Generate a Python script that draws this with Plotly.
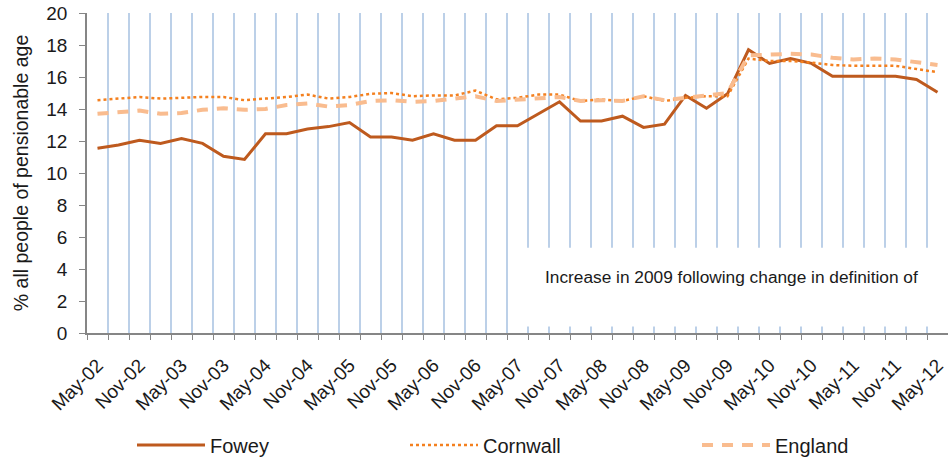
import plotly.graph_objects as go

# quarterly categories May-02 .. May-12
quarters = ["May", "Aug", "Nov", "Feb"]
categories = []
year = 2
for i in range(41):
    m = quarters[i % 4]
    yy = year if m != "Feb" else year + 1
    categories.append(f"{m}-{yy:02d}")
    if m == "Feb":
        year += 1

tick_labels = ["May-02", "Nov-02", "May-03", "Nov-03", "May-04", "Nov-04", "May-05",
               "Nov-05", "May-06", "Nov-06", "May-07", "Nov-07", "May-08", "Nov-08",
               "May-09", "Nov-09", "May-10", "Nov-10", "May-11", "Nov-11", "May-12"]

fowey = [11.55, 11.75, 12.05, 11.85, 12.15, 11.85, 11.05, 10.85, 12.45, 12.45,
         12.75, 12.9, 13.15, 12.25, 12.25, 12.05, 12.45, 12.05, 12.05, 12.95,
         12.95, 13.7, 14.45, 13.25, 13.25, 13.55, 12.85, 13.05, 14.85, 14.05,
         14.95, 17.7, 16.85, 17.15, 16.85, 16.05, 16.05, 16.05, 16.05, 15.85, 15.05]
cornwall = [14.55, 14.65, 14.75, 14.65, 14.7, 14.75, 14.75, 14.55, 14.65, 14.75,
            14.9, 14.65, 14.75, 14.95, 15.0, 14.8, 14.85, 14.85, 15.15, 14.6,
            14.7, 14.9, 14.9, 14.5, 14.6, 14.5, 14.8, 14.5, 14.7, 14.8,
            14.8, 17.15, 17.0, 17.0, 16.9, 16.75, 16.7, 16.7, 16.7, 16.5, 16.3]
england = [13.7, 13.8, 13.9, 13.7, 13.75, 13.95, 14.05, 13.95, 14.0, 14.25,
           14.35, 14.15, 14.25, 14.5, 14.55, 14.45, 14.5, 14.65, 14.8, 14.5,
           14.6, 14.7, 14.75, 14.5, 14.55, 14.5, 14.8, 14.55, 14.7, 14.8,
           15.0, 17.35, 17.4, 17.45, 17.4, 17.2, 17.1, 17.15, 17.1, 16.95, 16.75]

idx = list(range(len(categories)))
tick_idx = [categories.index(t) for t in tick_labels]

FONT = "Liberation Sans, Arial, sans-serif"
TXT = "#1a1a1a"
AX = "#868686"

W, H = 948, 459
ML, MR, MT, MB = 87, 0, 13, 126
PW, PH = W - ML - MR, H - MT - MB

fig = go.Figure()
fig.add_trace(go.Scatter(x=idx, y=fowey, name="Fowey", mode="lines",
                         line=dict(color="#BE5A1E", width=3),
                         customdata=categories))
fig.add_trace(go.Scatter(x=idx, y=cornwall, name="Cornwall", mode="lines",
                         line=dict(color="#F4801F", width=2.5, dash="dot"), legend="legend2",
                         customdata=categories))
fig.add_trace(go.Scatter(x=idx, y=england, name="England", mode="lines",
                         line=dict(color="#F9BC8F", width=4, dash="11px,9px"), legend="legend3",
                         customdata=categories))

# white box behind annotation text
fig.add_shape(type="rect", xref="x", yref="y", x0=19.8, x1=41, y0=0.4, y1=5.33,
              fillcolor="white", line=dict(width=0), layer="above")
fig.add_annotation(x=30.2, y=3.52, xref="x", yref="y",
                   text="Increase in 2009 following change in definition of",
                   showarrow=False, font=dict(family=FONT, size=17.3, color=TXT))


def leg(px_left):
    return dict(orientation="h", xref="paper", yref="paper",
                x=(px_left - ML) / PW, y=(MT + PH - 445) / PH,
                xanchor="left", yanchor="middle", itemwidth=68,
                font=dict(family=FONT, size=20, color=TXT), bgcolor="rgba(0,0,0,0)")


fig.update_layout(
    width=W, height=H,
    margin=dict(l=ML, r=MR, t=MT, b=MB, autoexpand=False),
    plot_bgcolor="white", paper_bgcolor="white",
    font=dict(family=FONT, color=TXT),
    showlegend=True,
    legend=leg(132),
    legend2=leg(405),
    legend3=leg(697),
    xaxis=dict(
        range=[-0.5, 40.5], tickmode="array", tickvals=tick_idx, ticktext=tick_labels,
        tickangle=-45, ticks="", showgrid=False, zeroline=False, automargin=False,
        showline=True, linecolor=AX, linewidth=1.5, ticklabelstandoff=12,
        ticklabeloverflow="allow",
        tickfont=dict(family=FONT, size=19, color=TXT),
        minor=dict(tick0=0.5, dtick=1, ticks="outside", ticklen=5, tickcolor=AX,
                   tickwidth=1.2, showgrid=True, gridcolor="#BCD0E8", gridwidth=1.5),
    ),
    yaxis=dict(
        range=[0, 20], dtick=2, showgrid=False, zeroline=False, automargin=False,
        showline=True, linecolor=AX, linewidth=1.5, ticklabelstandoff=8,
        ticks="outside", ticklen=6, tickcolor=AX, tickwidth=1.2,
        tickfont=dict(family=FONT, size=19, color=TXT),
        title=dict(text="% all people of pensionable age",
                   font=dict(family=FONT, size=19.5, color=TXT), standoff=12),
    ),
)

fig.write_html("out.html", config={"displayModeBar": False},
               post_script="document.body.style.margin='0';document.body.style.overflow='hidden';")
